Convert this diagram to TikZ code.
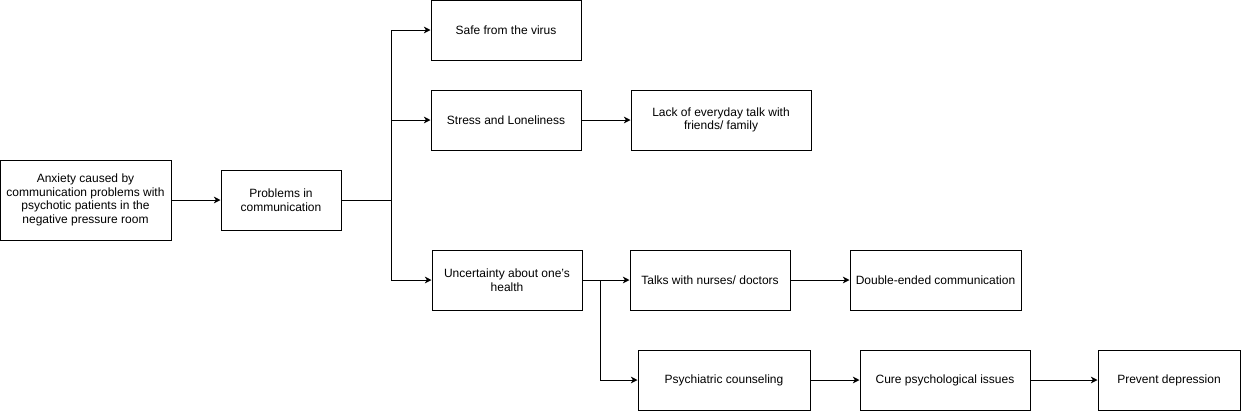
\documentclass[tikz,border=0pt]{standalone}
\usepackage{fontspec}
\setmainfont{Liberation Sans}
\usetikzlibrary{arrows.meta}
\usetikzlibrary{positioning}

\tikzset{
  box/.style={draw,line width=0.75pt,align=center,inner sep=2pt,
    font=\fontsize{9}{10.3}\selectfont,minimum height=45pt},
  link/.style={line width=0.75pt,-{Stealth[length=5pt,width=5pt,inset=1.5pt]}}
}

\begin{document}
\begin{tikzpicture}[x=0.75pt,y=-0.75pt]
\useasboundingbox (0,0) rectangle (1241,412);
\node[box,minimum width=128.25pt,minimum height=60pt] (anxiety) at (85.5,200) {Anxiety caused by\\communication problems with\\psychotic patients in the\\negative pressure room};
\node[box,minimum width=90pt] (problems) at (281,200) {Problems in\\communication};
\node[box,minimum width=112.5pt] (safe) at (506,30) {Safe from the virus};
\node[box,minimum width=112.5pt] (stress) at (506,120) {Stress and Loneliness};
\node[box,minimum width=135pt] (lack) at (721,120) {Lack of everyday talk with\\friends/ family};
\node[box,minimum width=112.5pt] (uncertain) at (507,280) {Uncertainty about one's\\health};
\node[box,minimum width=120pt] (talks) at (710,280) {Talks with nurses/ doctors};
\node[box,minimum width=128.25pt] (double) at (935.5,280) {Double-ended communication};
\node[box,minimum width=129pt] (counsel) at (724,380) {Psychiatric counseling};
\node[box,minimum width=127.5pt] (cure) at (945,380) {Cure psychological issues};
\node[box,minimum width=106.5pt] (prevent) at (1169,380) {Prevent depression};

\coordinate (split1) at (391,200);
\coordinate (split2) at (600,280);

\draw[link] (anxiety) -- (problems);
\draw[line width=0.75pt] (problems.east) -- (split1);
\draw[link] (split1) |- (safe.west);
\draw[link] (split1) |- (stress.west);
\draw[link] (split1) |- (uncertain.west);
\draw[link] (stress) -- (lack);
\draw[link] (uncertain) -- (talks);
\draw[link] (split2) |- (counsel.west);
\draw[link] (talks) -- (double);
\draw[link] (counsel) -- (cure);
\draw[link] (cure) -- (prevent);

\end{tikzpicture}
\end{document}
